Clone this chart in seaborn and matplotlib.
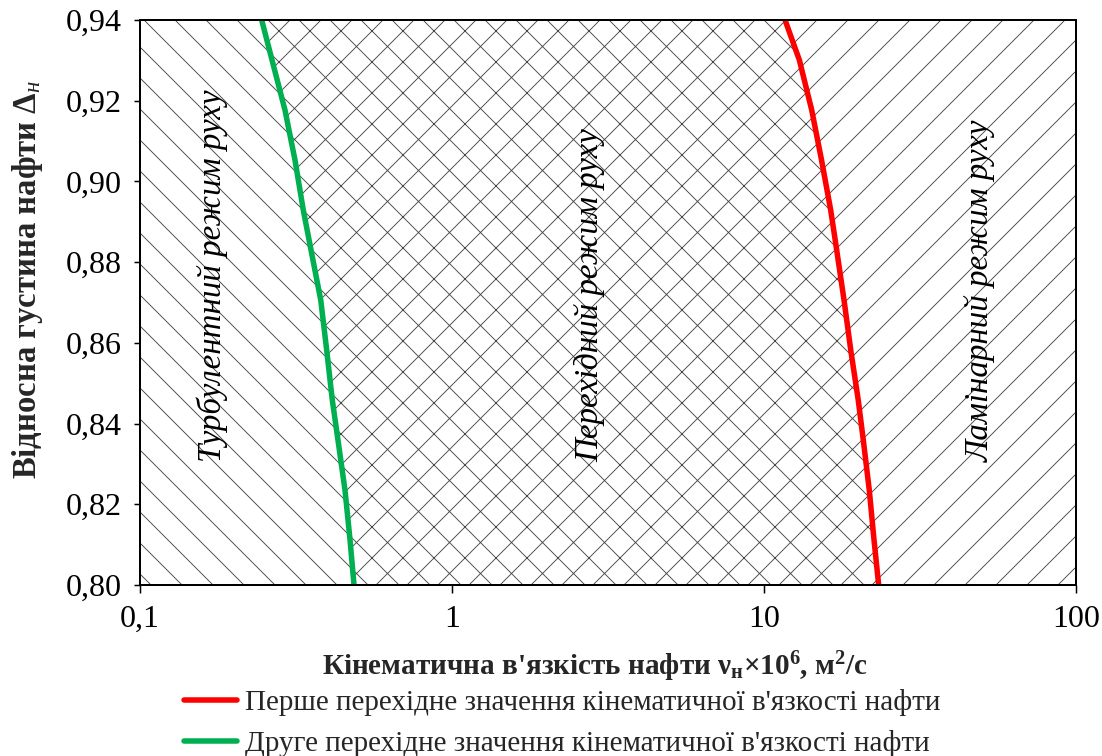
import numpy as np
import pandas as pd
import matplotlib
matplotlib.use("Agg")
import matplotlib.pyplot as plt
import seaborn as sns

# ---- data ----
density = [0.80, 0.8112, 0.8235, 0.8359, 0.8458, 0.8582, 0.8706,
           0.8830, 0.8929, 0.9053, 0.9177, 0.9301, 0.94]
nu_first = [23.31, 22.52, 21.75, 20.81, 20.05, 18.97, 18.05,
            17.10, 16.36, 15.29, 14.22, 12.98, 11.68]          # red
nu_second = [0.4852, 0.4711, 0.4540, 0.4311, 0.4134, 0.3966, 0.3796,
             0.3533, 0.3337, 0.3139, 0.2915, 0.2649, 0.2455]  # green
x_ticks = [0.1, 1, 10, 100]
x_ticklabels = ["0,1", "1", "10", "100"]
y_ticks = [0.80, 0.82, 0.84, 0.86, 0.88, 0.90, 0.92, 0.94]
regions = ["Турбулентний режим руху", "Перехідний режим руху", "Ламінарний режим руху"]
region_x = [0.170, 2.77, 49.2]
legend_labels = ["Перше перехідне значення кінематичної в'язкості нафти",
                 "Друге перехідне значення кінематичної в'язкості нафти"]

DPI = 186
PX = 72.0 / DPI  # points per pixel

sns.set_style("ticks")
plt.rcParams["font.family"] = ["Liberation Serif", "DejaVu Serif"]
plt.rcParams["mathtext.fontset"] = "custom"
plt.rcParams["mathtext.rm"] = "Liberation Serif"
plt.rcParams["mathtext.it"] = "Liberation Serif:italic"
plt.rcParams["mathtext.bf"] = "Liberation Serif:bold"
plt.rcParams["hatch.linewidth"] = 0.9 * PX
plt.rcParams["hatch.color"] = "#474747"

fig = plt.figure(figsize=(1102 / DPI, 756 / DPI), dpi=DPI)
ax = fig.add_axes([140 / 1102, 1 - 585 / 756, (1076 - 140) / 1102, (585 - 20) / 756])

df = pd.DataFrame({"density": density, "first": nu_first, "second": nu_second})

hcol = "#474747"
ax.fill_betweenx(df["density"], 0.1, df["second"], facecolor="none",
                 edgecolor=hcol, hatch="\\\\", linewidth=0)
ax.fill_betweenx(df["density"], df["second"], df["first"], facecolor="none",
                 edgecolor=hcol, hatch="xx", linewidth=0)
ax.fill_betweenx(df["density"], df["first"], 100, facecolor="none",
                 edgecolor=hcol, hatch="//", linewidth=0)

sns.lineplot(data=df, x="first", y="density", sort=False, estimator=None,
             color="#FF0000", linewidth=5.5 * PX, label=legend_labels[0], ax=ax)
sns.lineplot(data=df, x="second", y="density", sort=False, estimator=None,
             color="#00B050", linewidth=5.5 * PX, label=legend_labels[1], ax=ax)

ax.set_xscale("log")
ax.set_xlim(0.1, 100)
ax.set_ylim(0.80, 0.94)
ax.set_xticks(x_ticks)
ax.set_xticklabels(x_ticklabels)
ax.xaxis.set_minor_locator(matplotlib.ticker.NullLocator())
ax.set_yticks(y_ticks)
ax.set_yticklabels([f"{v:.2f}".replace(".", ",") for v in y_ticks])

fs = 32 * PX
ax.tick_params(axis="both", labelsize=fs, colors="black", width=1.5 * PX, direction="out")
ax.tick_params(axis="y", length=6 * PX, pad=12 * PX)
ax.tick_params(axis="x", length=8 * PX, pad=12 * PX)
for s in ax.spines.values():
    s.set_linewidth(2 * PX)
    s.set_color("black")

lfs = 29.2 * PX
ax.set_xlabel(r"Кінематична в'язкість нафти $\mathbf{ν_{н}{×}10^{6}}$, м$\mathbf{^{2}}$/с",
              fontsize=lfs, fontweight="bold", labelpad=15 * PX)
ax.xaxis.label.set_x(0.486)
ax.set_ylabel(r"Відносна густина нафти $\mathbf{Δ}_{\mathit{н}}$",
              fontsize=32.8 * PX, fontweight="bold", labelpad=21 * PX)
ax.yaxis.label.set_y(0.5416)

for lab, xv in zip(regions, region_x):
    ax.text(xv, 0.8305, lab, rotation=90, ha="center", va="bottom",
            fontsize=33 * PX, style="italic", color="black")

leg = ax.legend(loc="upper left", bbox_to_anchor=(184 / 1102, 1 - 689 / 756),
                bbox_transform=fig.transFigure, frameon=False, fontsize=lfs,
                handlelength=1.8, handletextpad=0.28, labelspacing=0.49,
                borderpad=0, borderaxespad=0)

fig.savefig("out.png", dpi=DPI)
